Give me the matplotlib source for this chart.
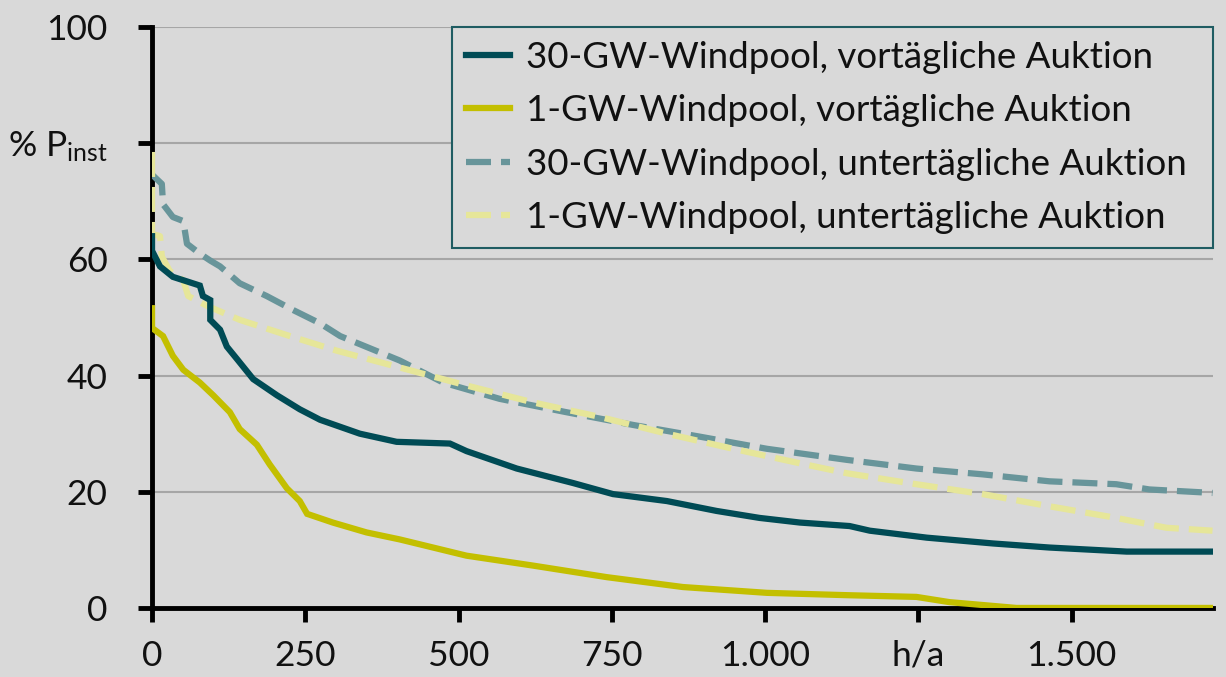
import matplotlib
matplotlib.use("Agg")
import matplotlib.pyplot as plt

# duration curves, hours per year vs. % of installed capacity
x_30_da = [0, 0, 13, 34, 78, 83, 95, 95, 111, 122, 139, 165, 204, 241, 274, 339, 399,
           486, 513, 595, 687, 752, 840, 921, 991, 1057, 1138, 1171, 1264, 1372, 1464,
           1590, 1730]
y_30_da = [64, 61.5, 58.8, 57, 55.5, 53.7, 53, 49.6, 47.9, 45, 42.8, 39.4, 36.6, 34.2,
           32.4, 30, 28.6, 28.3, 27, 24, 21.5, 19.6, 18.4, 16.7, 15.5, 14.7, 14.1, 13.3,
           12.1, 11.1, 10.4, 9.7, 9.7]

x_1_da = [0, 0, 18, 34, 51, 78, 100, 127, 143, 171, 192, 220, 241, 253, 295, 350, 404,
          513, 621, 742, 866, 1003, 1133, 1247, 1301, 1410, 1730]
y_1_da = [51.6, 48.2, 46.8, 43.4, 41, 38.8, 36.6, 33.7, 30.8, 28.1, 24.7, 20.6, 18.4,
          16.2, 14.7, 13, 11.8, 9, 7.3, 5.3, 3.6, 2.6, 2.2, 1.9, 1, 0, 0]

x_30_id = [0, 16, 18, 34, 51, 57, 78, 95, 111, 143, 187, 230, 274, 307, 404, 475, 567,
           676, 785, 893, 1003, 1133, 1247, 1355, 1464, 1573, 1627, 1730]
y_30_id = [74.6, 73, 69.5, 67.3, 66.6, 62.7, 61, 59.8, 58.8, 55.9, 53.7, 51.3, 49, 46.8,
           42.6, 38.8, 36, 33.7, 31.5, 29.5, 27.4, 25.5, 24, 23, 21.8, 21.3, 20.4, 19.8]

x_1_id = [0, 0, 13, 16, 29, 51, 59, 90, 143, 225, 301, 404, 513, 621, 730, 840, 948,
          1057, 1133, 1247, 1355, 1464, 1573, 1655, 1730]
y_1_id = [78.5, 64.4, 64, 60.5, 58, 56.4, 53.7, 52, 49.6, 46.8, 44.3, 41.4, 38.3, 35.4,
          32.9, 30, 27.4, 24.9, 23.2, 21.3, 19.6, 17.5, 15.5, 13.8, 13.3]

x_ticks = [0, 250, 500, 750, 1000, 1250, 1500]
x_tick_labels = ["0", "250", "500", "750", "1.000", "h/a", "1.500"]
y_ticks = [0, 20, 40, 60, 80, 100]
y_tick_labels = ["0", "20", "40", "60", "% P$_{\\mathregular{inst}}$", "100"]

BG = "#d9d9d9"

plt.rcParams["font.family"] = ["Lato", "DejaVu Sans"]
plt.rcParams["mathtext.default"] = "regular"

fig = plt.figure(figsize=(12.26, 6.77), dpi=100, facecolor=BG)
ax = fig.add_axes([0.124, 0.102, 0.865, 0.858], facecolor=BG)

lw = 4.5
ax.plot(x_30_da, y_30_da, color="#004b55", lw=lw, solid_joinstyle="miter",
        label="30-GW-Windpool, vortägliche Auktion", zorder=4)
ax.plot(x_1_da, y_1_da, color="#c3bf00", lw=lw, solid_joinstyle="miter",
        label="1-GW-Windpool, vortägliche Auktion", zorder=4)
ax.plot(x_30_id, y_30_id, color="#68959a", lw=lw, dashes=(4, 1.6),
        label="30-GW-Windpool, untertägliche Auktion", zorder=3)
ax.plot(x_1_id, y_1_id, color="#e6e699", lw=lw, dashes=(4, 1.6),
        label="1-GW-Windpool, untertägliche Auktion", zorder=3)

ax.set_xlim(0, 1730)
ax.set_ylim(0, 100)
ax.set_xticks(x_ticks)
ax.set_xticklabels(x_tick_labels)
ax.set_yticks(y_ticks)
ax.set_yticklabels(y_tick_labels)

for y in y_ticks[1:]:
    ax.axhline(y, color="#a6a6a6", lw=1.5, zorder=1)

for side in ("top", "right"):
    ax.spines[side].set_visible(False)
for side in ("left", "bottom"):
    ax.spines[side].set_linewidth(3.5)
    ax.spines[side].set_color("black")
    ax.spines[side].set_zorder(2)

ax.tick_params(axis="both", direction="out", length=10, width=3.5, labelsize=25.5,
               colors="black", labelcolor="#111111")
ax.tick_params(axis="x", pad=13)
ax.tick_params(axis="y", pad=22)

leg = ax.legend(loc="upper left", bbox_to_anchor=(0.283, 0.0, 0.717, 1.0),
                mode="expand", borderaxespad=0,
                fontsize=26.5, frameon=True, fancybox=False, handlelength=1.2,
                handletextpad=0.43, labelspacing=0.55, borderpad=0.38,
                facecolor=BG, edgecolor="#1f5c62")
leg.get_frame().set_linewidth(1.5)
leg.get_frame().set_alpha(1)
for t in leg.get_texts():
    t.set_color("#111111")

fig.savefig("out.png", dpi=100, facecolor=BG)
